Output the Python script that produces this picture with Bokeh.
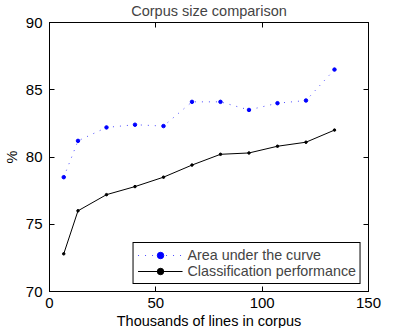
from bokeh.plotting import figure
from bokeh.models import LinearAxis, SingleIntervalTicker, Legend, LegendItem, CustomJSTickFormatter, Title
from bokeh.embed import file_html
from bokeh.resources import INLINE

x_lines = [6.7, 13.4, 26.8, 40.2, 53.6, 67.0, 80.4, 93.8, 107.2, 120.6, 134.0]
auc = [78.5, 81.2, 82.2, 82.4, 82.3, 84.1, 84.1, 83.5, 84.0, 84.2, 86.5]
classif = [72.8, 76.0, 77.2, 77.8, 78.5, 79.4, 80.2, 80.3, 80.8, 81.1, 82.0]

FONT = "Liberation Sans"

p = figure(width=390, height=328, x_range=(0, 150), y_range=(70, 90),
           output_backend="svg", toolbar_location=None,
           title="Corpus size comparison",
           min_border_left=45, min_border_right=22, min_border_top=17, min_border_bottom=0)
p.title.text_font = FONT
p.title.text_font_size = "14.5px"
p.title.text_font_style = "normal"
p.title.align = "center"
p.title.standoff = 0
p.title.offset = 0

p.xgrid.visible = False
p.ygrid.visible = False
p.outline_line_color = "black"
p.outline_line_alpha = 1.0
p.background_fill_color = "white"
p.border_fill_color = "white"

p.xaxis.ticker = SingleIntervalTicker(interval=50)
p.yaxis.ticker = SingleIntervalTicker(interval=5)
for ax in [p.xaxis[0], p.yaxis[0]]:
    ax.major_tick_in = 5
    ax.major_tick_out = 0
    ax.minor_tick_line_color = None
    ax.axis_line_color = "black"
    ax.major_tick_line_color = "black"
    ax.major_label_text_font = FONT
    ax.major_label_text_font_size = "15px"
    ax.major_label_text_color = "black"
    ax.axis_label_text_font = FONT
    ax.axis_label_text_font_size = "14.5px"
    ax.axis_label_text_font_style = "normal"
    ax.axis_label_text_color = "black"
p.yaxis.axis_label = "%"
p.xaxis.major_label_standoff = 2
p.yaxis.major_label_standoff = 3
p.yaxis.axis_label_standoff = 3

xlabel = Title(text="Thousands of lines in corpus", align="center",
               text_font=FONT, text_font_size="14.5px", text_font_style="normal",
               text_color="black", standoff=0, offset=0)
p.add_layout(xlabel, "below")

blank = CustomJSTickFormatter(code="return ''")
top = LinearAxis(ticker=SingleIntervalTicker(interval=50), formatter=blank,
                 major_tick_in=5, major_tick_out=0, minor_tick_line_color=None,
                 axis_line_color="black", major_tick_line_color="black", major_label_standoff=0)
right = LinearAxis(ticker=SingleIntervalTicker(interval=5), formatter=blank,
                   major_tick_in=5, major_tick_out=0, minor_tick_line_color=None,
                   axis_line_color="black", major_tick_line_color="black", major_label_standoff=0)
p.add_layout(top, "above")
p.add_layout(right, "right")

l1 = p.line(x_lines, auc, line_color="blue", line_dash="1 6", line_width=1, line_alpha=0.7)
s1 = p.scatter(x_lines, auc, size=3.5, color="blue")
l2 = p.line(x_lines, classif, line_color="black", line_width=1)
s2 = p.scatter(x_lines, classif, size=2.5, color="black")

legend = Legend(items=[LegendItem(label="Area under the curve", renderers=[l1, s1]),
                       LegendItem(label="Classification performance", renderers=[l2, s2])],
                location="bottom_right")
legend.label_text_font = FONT
legend.label_text_font_size = "14.3px"
legend.border_line_color = "black"
legend.border_line_alpha = 1.0
legend.margin = 7
legend.padding = 4
legend.spacing = 0
legend.glyph_width = 45
legend.label_height = 16
legend.glyph_height = 16
legend.label_standoff = 5
p.add_layout(legend, "center")

open("out.html", "w").write(file_html(p, INLINE))
